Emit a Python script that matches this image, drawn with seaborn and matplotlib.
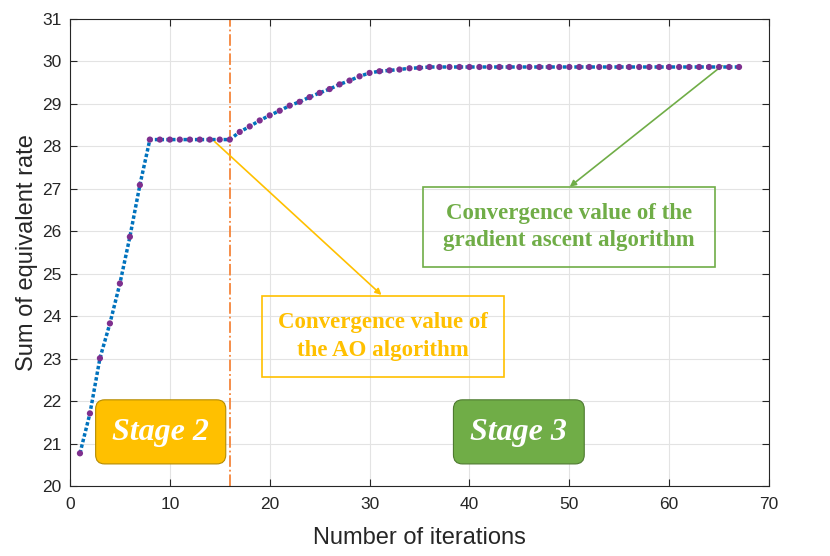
import matplotlib
matplotlib.use('Agg')
import matplotlib.pyplot as plt
import seaborn as sns
import pandas as pd
from matplotlib.patches import FancyBboxPatch, Rectangle

# data
iterations = list(range(1, 68))
rate = [20.77, 21.71, 23.01, 23.83, 24.77, 25.87, 27.09,
        28.16, 28.16, 28.16, 28.16, 28.16, 28.16, 28.16, 28.16, 28.16,
        28.34, 28.47, 28.61, 28.73, 28.84, 28.96, 29.05, 29.16, 29.26,
        29.35, 29.46, 29.55, 29.65, 29.73, 29.77, 29.79, 29.81, 29.84,
        29.85, 29.87, 29.87, 29.87, 29.87, 29.87, 29.87, 29.87, 29.87,
        29.87, 29.87, 29.87, 29.87, 29.87, 29.87, 29.87, 29.87, 29.87,
        29.87, 29.87, 29.87, 29.87, 29.87, 29.87, 29.87, 29.87, 29.87,
        29.87, 29.87, 29.87, 29.87, 29.87, 29.87]
stage_split = 16
df = pd.DataFrame({'iter': iterations, 'rate': rate})

sns.set_style('ticks')
plt.rcParams['font.family'] = ['Liberation Sans', 'DejaVu Sans']

fig = plt.figure(figsize=(8.3, 5.56), dpi=100)
ax = fig.add_axes([0.0843, 0.1259, 0.8422, 0.8399])

sns.lineplot(data=df, x='iter', y='rate', ax=ax, color='#0072BD',
             linestyle=(0, (1, 0.65)), linewidth=2.5, zorder=3)
sns.scatterplot(data=df, x='iter', y='rate', ax=ax, color='#7E2F8E',
                s=20, edgecolor='none', zorder=4)

ax.axvline(stage_split, color='#F5853A', linestyle='-.', linewidth=1.3, zorder=2)

ax.set_xlim(0, 70)
ax.set_ylim(20, 31)
ax.set_xticks(range(0, 71, 10))
ax.set_yticks(range(20, 32))
ax.grid(True, color='#E3E3E3', linewidth=0.8)
ax.set_axisbelow(True)
for s in ax.spines.values():
    s.set_visible(True)
    s.set_color('#262626')
    s.set_linewidth(0.8)
ax.tick_params(direction='in', top=True, right=True, labelsize=12.5,
               colors='#262626', length=5)
ax.tick_params(axis='x', pad=8)
ax.tick_params(axis='y', pad=6)
ax.set_xlabel('Number of iterations', fontsize=17, color='#262626', labelpad=11)
ax.set_ylabel('Sum of equivalent rate', fontsize=17, color='#262626', labelpad=3)

serif = ['Liberation Serif', 'DejaVu Serif']
gold = '#FFC000'
green = '#70AD47'

# annotation boxes
ax.add_patch(Rectangle((19.2, 22.57), 24.3, 1.91, fill=False,
                       edgecolor=gold, linewidth=1.2, zorder=5))
ax.text(31.35, 23.53, 'Convergence value of\nthe AO algorithm', ha='center',
        va='center', color=gold, fontsize=16.5, fontweight='bold',
        family=serif, linespacing=1.42, zorder=6)
ax.annotate('', xy=(31.2, 24.5), xytext=(14.5, 28.11),
            arrowprops=dict(arrowstyle='-|>', color=gold, lw=1.2,
                            mutation_scale=9, shrinkA=0, shrinkB=0))

ax.add_patch(Rectangle((35.4, 25.15), 29.2, 1.89, fill=False,
                       edgecolor=green, linewidth=1.2, zorder=5))
ax.text(50.0, 26.1, 'Convergence value of the\ngradient ascent algorithm',
        ha='center', va='center', color=green, fontsize=16.5,
        fontweight='bold', family=serif, linespacing=1.38, zorder=6)
ax.annotate('', xy=(50.05, 27.05), xytext=(65.3, 29.9),
            arrowprops=dict(arrowstyle='-|>', color=green, lw=1.2,
                            mutation_scale=9, shrinkA=0, shrinkB=0))

# stage labels
for (x0, x1, face, edge, label) in [(2.57, 15.6, gold, '#B58B00', 'Stage 2'),
                                     (38.4, 51.5, green, '#4E7A30', 'Stage 3')]:
    box = FancyBboxPatch((x0, 20.52), x1 - x0, 1.51,
                         boxstyle='round,pad=0,rounding_size=0.9',
                         mutation_aspect=0.24, facecolor=face,
                         edgecolor=edge, linewidth=0.8, zorder=5)
    ax.add_patch(box)
    ax.text((x0 + x1) / 2, 21.27, label, ha='center', va='center',
            color='white', fontsize=23, fontweight='bold', style='italic',
            family=serif, zorder=6)

fig.savefig('out.png', dpi=100)
